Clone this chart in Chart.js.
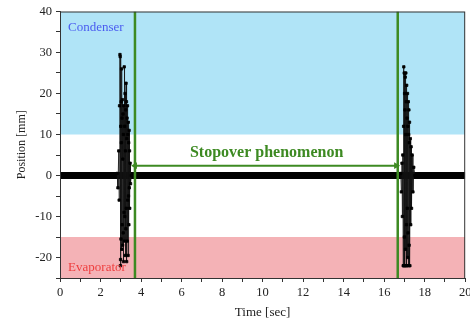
<!DOCTYPE html>
<html lang="en">
<head>
  <meta charset="UTF-8">
  <title>Stopover phenomenon</title>
  <script src="https://cdn.jsdelivr.net/npm/chart.js"></script>
  <style>
    html, body { margin: 0; padding: 0; background: #fff; }
    #wrap { width: 470px; height: 320px; }
  </style>
</head>
<body>
<div id="wrap"><canvas id="posChart" width="470" height="320"></canvas></div>
<script>
  // baseline (slug at rest around 0 mm)
  const baseTime = [0, 20];
  const basePos = [0, 0];

  // first oscillation burst
  const burst1Time = [2.82, 2.86, 2.9, 2.92, 2.94, 2.96, 2.97, 2.98, 2.99, 3.0, 3.01, 3.02, 3.03, 3.04, 3.05,
                      3.06, 3.07, 3.08, 3.09, 3.1, 3.11, 3.12, 3.13, 3.14, 3.15, 3.16, 3.17, 3.18, 3.19, 3.2,
                      3.21, 3.22, 3.23, 3.24, 3.25, 3.26, 3.27, 3.28, 3.29, 3.3, 3.31, 3.32, 3.33, 3.34, 3.35,
                      3.36, 3.37, 3.38, 3.39, 3.4, 3.41, 3.42, 3.43, 3.44, 3.46, 3.48, 3.52];
  const burst1Pos = [0.5, -3, 6, -6, 17, 29.5, 29, -22, -20.5, 12, -15.5, 18, 8, 26, -18, 14, -12, 18.5,
                     -17, 4, 15, -14, 10, -21, 17, -9, 26.5, -16, 12, -10, 20, -19.5, 6, 16, -13, 22.5, -8,
                     18, -21, 9, 14, -16, 17, -6, 10, -19.5, 13, -5, 8, -12, 11, -3, 6, -8, 3, -2, 0];

  // second oscillation burst
  const burst2Time = [16.82, 16.85, 16.88, 16.9, 16.92, 16.94, 16.96, 16.97, 16.98, 16.99, 17.0, 17.01,
                      17.02, 17.03, 17.04, 17.05, 17.06, 17.07, 17.08, 17.09, 17.1, 17.11, 17.12, 17.13,
                      17.14, 17.15, 17.16, 17.17, 17.18, 17.19, 17.2, 17.21, 17.22, 17.23, 17.24, 17.25,
                      17.27, 17.29, 17.31, 17.33, 17.35, 17.38, 17.42, 17.46, 17.52];
  const burst2Pos = [0.5, -4, 3, -10, 5, -22, 12, 26.5, -22, 25, -15, 20, -22, 16, 24, -18, 10, 25, -22,
                     18, -12, 22, -22, 14, -8, 20, -20, 12, -14, 18, -22, 10, 16, -17, 8, 13, -22, 9, -12,
                     7, -8, 5, -4, 2, 0];

  // shaded regions and markers
  const condenserRange = [10, 40];
  const evaporatorRange = [-25, -15];
  const stopoverStart = 3.7;
  const stopoverEnd = 16.67;
  const arrowPos = 2.4;

  const xTicks = [0, 2, 4, 6, 8, 10, 12, 14, 16, 18, 20];
  const yTicks = [-20, -10, 0, 10, 20, 30, 40];

  const pts = (xs, ys) => xs.map((x, i) => ({ x: x, y: ys[i] }));
  const green = '#3d8a22';

  const overlay = {
    id: 'overlay',
    afterDatasetsDraw(chart) {
      const { ctx, chartArea: a, scales: { x, y } } = chart;
      ctx.save();
      ctx.strokeStyle = '#333';
      ctx.lineWidth = 1;
      ctx.strokeRect(a.left + 0.5, a.top + 0.5, a.right - a.left - 1, a.bottom - a.top);
      ctx.textBaseline = 'middle';
      ctx.font = '13px "Liberation Serif"';
      ctx.fillStyle = '#4a5cf0';
      ctx.textAlign = 'left';
      ctx.fillText('Condenser', x.getPixelForValue(0.4), y.getPixelForValue(36.2));
      ctx.fillStyle = '#ee3e3e';
      ctx.fillText('Evaporator', x.getPixelForValue(0.4), y.getPixelForValue(-22.5));
      ctx.fillStyle = green;
      ctx.font = 'bold 16px "Liberation Serif"';
      ctx.textAlign = 'center';
      ctx.fillText('Stopover phenomenon', x.getPixelForValue(10.2), y.getPixelForValue(5.5));
      ctx.restore();
    }
  };

  new Chart(document.getElementById('posChart'), {
    type: 'line',
    data: {
      datasets: [
        {
          data: pts([stopoverStart, stopoverEnd - 0.08], [arrowPos, arrowPos]),
          borderColor: green, borderWidth: 2,
          pointStyle: 'triangle', pointRadius: 4, pointRotation: [-90, 90],
          pointBackgroundColor: green, pointBorderColor: green, pointBorderWidth: 0
        },
        {
          data: pts([stopoverStart, stopoverStart], [-25, 40]),
          borderColor: green, borderWidth: 2.5, pointRadius: 0
        },
        {
          data: pts([stopoverEnd, stopoverEnd], [-25, 40]),
          borderColor: green, borderWidth: 2.5, pointRadius: 0
        },
        {
          data: pts(burst1Time, burst1Pos),
          borderColor: '#111', borderWidth: 0.8, pointStyle: 'rect', pointRadius: 1.7,
          pointBackgroundColor: '#000', pointBorderColor: '#000'
        },
        {
          data: pts(burst2Time, burst2Pos),
          borderColor: '#111', borderWidth: 0.8, pointStyle: 'rect', pointRadius: 1.7,
          pointBackgroundColor: '#000', pointBorderColor: '#000'
        },
        {
          data: pts(baseTime, basePos),
          borderColor: '#000', borderWidth: 7, pointRadius: 0
        },
        {
          data: pts([0, 20], [condenserRange[1], condenserRange[1]]),
          borderWidth: 0, pointRadius: 0,
          backgroundColor: '#b0e4f7', fill: { value: condenserRange[0] }
        },
        {
          data: pts([0, 20], [evaporatorRange[1], evaporatorRange[1]]),
          borderWidth: 0, pointRadius: 0,
          backgroundColor: '#f4b2b6', fill: { value: evaporatorRange[0] }
        }
      ]
    },
    options: {
      responsive: false,
      animation: false,
      layout: { padding: { left: 0, right: 4, top: 10, bottom: 0 } },
      plugins: { legend: { display: false }, tooltip: { enabled: false } },
      scales: {
        x: {
          type: 'linear', min: 0, max: 20,
          afterFit: s => { s.height = 42; s.paddingRight = 0; s.paddingLeft = 0; },
          border: { color: '#333' },
          grid: { drawOnChartArea: false, drawTicks: true, tickLength: 4, tickColor: '#333' },
          ticks: {
            stepSize: 1, autoSkip: false, maxRotation: 0, padding: 3, color: '#222',
            font: { family: 'Liberation Serif', size: 12.5 },
            callback: v => xTicks.includes(v) ? v : ''
          },
          title: { display: true, text: 'Time [sec]', color: '#222', padding: 0,
                   font: { family: 'Liberation Serif', size: 13 } }
        },
        y: {
          min: -25, max: 40,
          afterFit: s => { s.width = 60; },
          border: { color: '#333' },
          grid: { drawOnChartArea: false, drawTicks: true, tickLength: 4, tickColor: '#333' },
          ticks: {
            stepSize: 5, autoSkip: false, padding: 4, color: '#222',
            font: { family: 'Liberation Serif', size: 12.5 },
            callback: v => yTicks.includes(v) ? v : ''
          },
          title: { display: true, text: 'Position [mm]', color: '#222', padding: { top: 15, bottom: 0 },
                   font: { family: 'Liberation Serif', size: 12 } }
        }
      }
    },
    plugins: [overlay]
  });
</script>
</body>
</html>
